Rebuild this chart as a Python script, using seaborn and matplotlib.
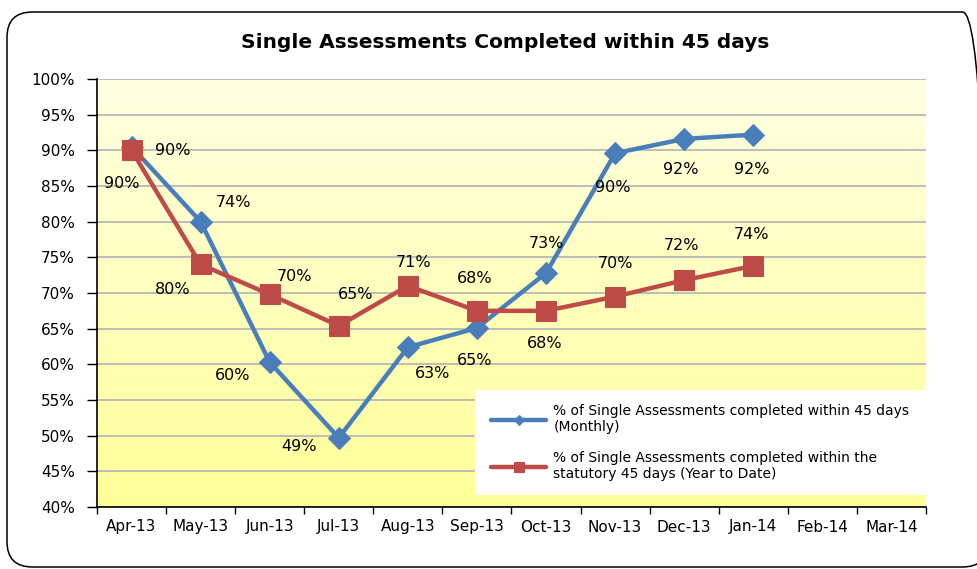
import matplotlib

matplotlib.use("Agg")
import matplotlib.pyplot as plt
import numpy as np
import pandas as pd
import seaborn as sns
from matplotlib.colors import LinearSegmentedColormap
from matplotlib.patches import FancyBboxPatch, Rectangle
from matplotlib.ticker import FuncFormatter

sns.set_style("white")
plt.rcParams["font.family"] = ["DejaVu Sans"]
plt.rcParams["text.color"] = "black"
plt.rcParams["xtick.color"] = "black"
plt.rcParams["ytick.color"] = "black"

# ---- data ----
months = ["Apr-13", "May-13", "Jun-13", "Jul-13", "Aug-13", "Sep-13",
          "Oct-13", "Nov-13", "Dec-13", "Jan-14", "Feb-14", "Mar-14"]
monthly = [90.5, 80.0, 60.3, 49.7, 62.4, 65.1, 72.8, 89.6, 91.6, 92.2]
ytd = [90.0, 74.0, 69.8, 65.4, 71.0, 67.5, 67.5, 69.5, 71.8, 73.8]
monthly_labels = ["90%", "74%", "60%", "49%", "63%", "65%", "73%", "90%", "92%", "92%"]
ytd_labels = ["90%", "80%", "70%", "65%", "71%", "68%", "68%", "70%", "72%", "74%"]
name_monthly = "% of Single Assessments completed within 45 days\n(Monthly)"
name_ytd = ("% of Single Assessments completed within the\n"
            "statutory 45 days (Year to Date)")

# label placement (pixel offsets from the point, y up)
monthly_offsets = [(-10, -37), (33, 19), (-37, -13), (-40, -9), (25, -26),
                   (-2, -33), (0, 30), (-2, -34), (-3, -31), (-2, -35)]
ytd_offsets = [(41, 0), (-28, -25), (25, 18), (17, 31), (6, 23),
               (-2, 32), (-1, -33), (0, 33), (-3, 35), (-2, 31)]

BLUE, RED = "#4A7EBB", "#BE4B48"

df_m = pd.DataFrame({"pos": range(len(monthly)), "value": monthly})
df_y = pd.DataFrame({"pos": range(len(ytd)), "value": ytd})

fig = plt.figure(figsize=(9.78, 5.69), dpi=100)
ax = fig.add_axes([97 / 978, 1 - 507 / 569, 829 / 978, 428 / 569])

# yellow gradient background
cmap = LinearSegmentedColormap.from_list("bg", ["#FFFF99", "#FFFFE2"])
grad = np.linspace(0, 1, 256).reshape(-1, 1)
ax.imshow(grad, extent=[0, 1, 0, 1], transform=ax.transAxes, cmap=cmap,
          aspect="auto", origin="lower", zorder=-2)

sns.lineplot(data=df_m, x="pos", y="value", color=BLUE, lw=3.2, marker="D",
             markersize=11, markeredgecolor=BLUE, ax=ax, label=name_monthly)
sns.lineplot(data=df_y, x="pos", y="value", color=RED, lw=3.2, marker="s",
             markersize=14, markeredgecolor=RED, ax=ax, label=name_ytd)

for vals, labs, offs in [(monthly, monthly_labels, monthly_offsets),
                         (ytd, ytd_labels, ytd_offsets)]:
    for i, (v, t, o) in enumerate(zip(vals, labs, offs)):
        ax.annotate(t, (i, v), xytext=o, textcoords="offset pixels",
                    ha="center", va="center", fontsize=11.5, color="black",
                    zorder=5)

ax.set_xlim(-0.5, len(months) - 0.5)
ax.set_ylim(40, 100)
ax.set_yticks(np.arange(40, 101, 5))
ax.yaxis.set_major_formatter(FuncFormatter(lambda v, _: f"{v:.0f}%"))
ax.yaxis.grid(True, color="#B8B8B8", lw=1.3)
ax.set_axisbelow(True)

ax.set_xticks(np.arange(-0.5, len(months), 1))
ax.set_xticklabels([])
ax.set_xticks(np.arange(len(months)), minor=True)
ax.set_xticklabels(months, minor=True)
ax.tick_params(axis="x", which="major", length=5, width=1, direction="out",
               bottom=True, color="black")
ax.tick_params(axis="x", which="minor", length=0, pad=9, labelsize=11)
ax.tick_params(axis="y", length=7, width=1, direction="out", left=True,
               pad=9, labelsize=11, color="black")
ax.set_xlabel("")
ax.set_ylabel("")
for s in ["top", "right"]:
    ax.spines[s].set_visible(False)
for s in ["left", "bottom"]:
    ax.spines[s].set_color("black")
    ax.spines[s].set_linewidth(1.2)

# legend on a white box
ax.add_patch(Rectangle((0.456, 0.028), 0.544, 0.245, transform=ax.transAxes,
                       fc="white", ec="none", zorder=4))
leg = ax.legend(loc="upper left", bbox_to_anchor=(0.46, 0.27), frameon=False,
                fontsize=10, handlelength=4.0, handletextpad=0.5,
                labelspacing=1.2, markerscale=0.5)
leg.set_zorder(6)

fig.text(505 / 978, 1 - 42 / 569, "Single Assessments Completed within 45 days",
         ha="center", va="center", fontsize=14.5, fontweight="bold",
         color="black")

fig.patches.append(FancyBboxPatch((7 / 978, 1 - 567 / 569), 981 / 978, 555 / 569,
                                  boxstyle="round,pad=0,rounding_size=0.026",
                                  mutation_aspect=978 / 569,
                                  transform=fig.transFigure, fc="none",
                                  ec="black", lw=1.1))

fig.savefig("out.png", dpi=100)
